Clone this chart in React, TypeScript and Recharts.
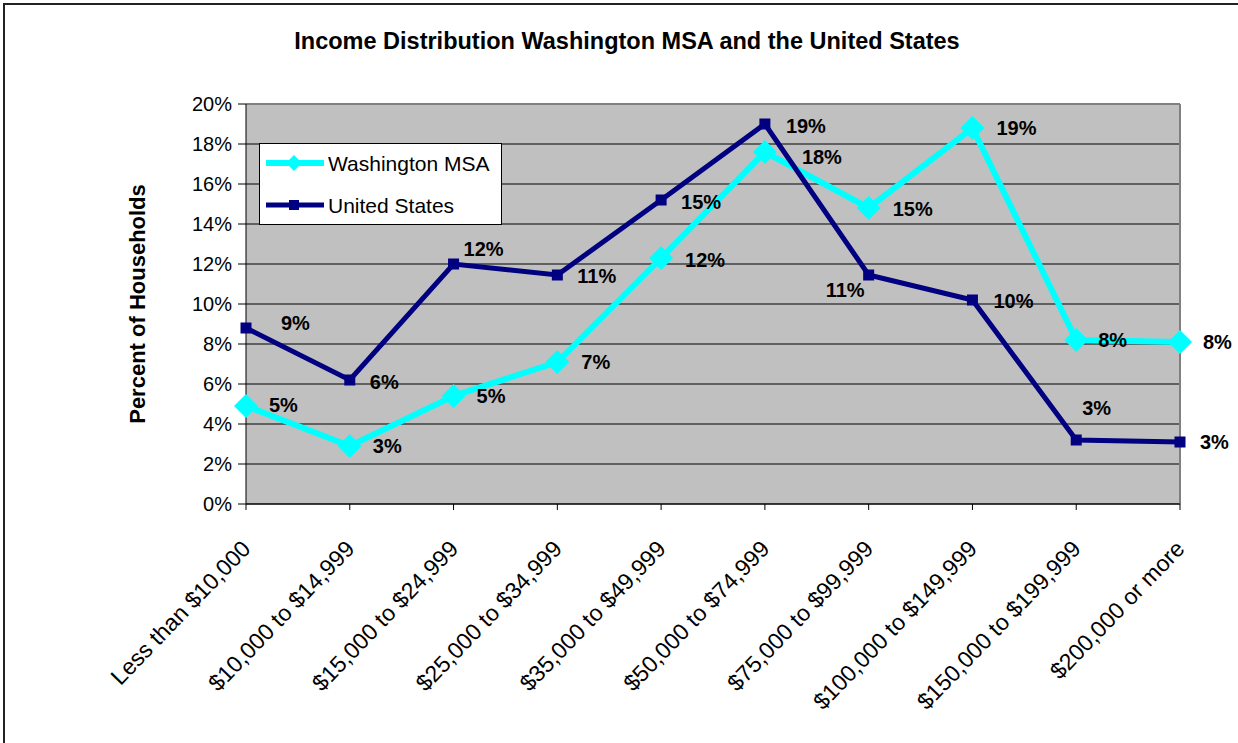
import React from "react";
import {
  LineChart,
  Line,
  XAxis,
  YAxis,
  CartesianGrid,
  Legend,
  LabelList,
  ReferenceLine,
} from "recharts";

const incomeBrackets = [
  "Less than $10,000",
  "$10,000 to $14,999",
  "$15,000 to $24,999",
  "$25,000 to $34,999",
  "$35,000 to $49,999",
  "$50,000 to $74,999",
  "$75,000 to $99,999",
  "$100,000 to $149,999",
  "$150,000 to $199,999",
  "$200,000 or more",
];

// percent of households
const washingtonMsa = [4.9, 2.9, 5.4, 7.1, 12.3, 17.6, 14.8, 18.8, 8.2, 8.1];
const unitedStates = [8.8, 6.2, 12.0, 11.45, 15.2, 19.0, 11.45, 10.2, 3.2, 3.1];

const percentTicks = [0, 2, 4, 6, 8, 10, 12, 14, 16, 18, 20];

// label nudges (dx, dy from the point), as Excel placed them
const washLabelNudge = [
  [23, -1], [23, 0], [23, 0], [24, 0], [24, 2],
  [37, 5], [24, 1], [24, 0], [22, 0], [23, 0],
];
const usLabelNudge = [
  [35, -5], [20, 2], [10, -15], [20, 1], [20, 2],
  [21, 2], [-43, 15], [21, 1], [6, -32], [20, 0],
];

const CYAN = "#00FFFF";
const NAVY = "#000080";
const FONT = "'Liberation Sans', Arial, sans-serif";

const data = incomeBrackets.map((bracket, i) => ({
  bracket,
  wash: washingtonMsa[i],
  us: unitedStates[i],
}));

const Diamond = (props: any) => {
  const { cx, cy, size = 12 } = props;
  if (cx == null || cy == null) return null;
  return (
    <polygon
      points={`${cx},${cy - size} ${cx + size},${cy} ${cx},${cy + size} ${cx - size},${cy}`}
      fill={CYAN}
    />
  );
};

const Square = (props: any) => {
  const { cx, cy, s = 11 } = props;
  if (cx == null || cy == null) return null;
  return <rect x={cx - s / 2} y={cy - s / 2} width={s} height={s} fill={NAVY} />;
};

const makeLabel = (nudge: number[][]) => (props: any) => {
  const { x, y, value, index } = props;
  const [dx, dy] = nudge[index] || [20, 0];
  return (
    <text
      x={x + dx}
      y={y + dy}
      dominantBaseline="central"
      fontFamily={FONT}
      fontWeight="bold"
      fontSize={20}
      fill="#000"
    >
      {`${Math.round(value)}%`}
    </text>
  );
};

const XTick = (props: any) => {
  const { x, y, payload } = props;
  const ax = x + 6;
  const ay = y + 38;
  return (
    <text
      x={ax}
      y={ay}
      transform={`rotate(-46 ${ax} ${ay})`}
      textAnchor="end"
      fontFamily={FONT}
      fontSize={23}
      fill="#000"
    >
      {payload.value}
    </text>
  );
};

const LegendBox = () => (
  <div
    style={{
      width: 243,
      height: 82,
      boxSizing: "border-box",
      border: "1px solid #000",
      background: "#fff",
      fontFamily: FONT,
      fontSize: 21,
    }}
  >
    <svg width={241} height={80} style={{ display: "block" }}>
      <line x1={6} x2={64} y1={19} y2={19} stroke={CYAN} strokeWidth={6} />
      <Diamond cx={34} cy={19} size={8} />
      <text x={68} y={19} dominantBaseline="central" fontSize={21} fontFamily={FONT}>
        Washington MSA
      </text>
      <line x1={6} x2={64} y1={61} y2={61} stroke={NAVY} strokeWidth={5} />
      <Square cx={34} cy={61} s={10} />
      <text x={68} y={61} dominantBaseline="central" fontSize={21} fontFamily={FONT}>
        United States
      </text>
    </svg>
  </div>
);

export default function App() {
  return (
    <div style={{ position: "absolute", left: 0, top: 0, width: 1238, height: 743, background: "#fff" }}>
      <div
        style={{
          position: "absolute",
          left: 3,
          top: 3,
          width: 1235,
          height: 740,
          boxSizing: "border-box",
          borderTop: "2px solid #222",
          borderLeft: "2px solid #222",
        }}
      />
      <div
        style={{
          position: "absolute",
          left: 16,
          top: 28,
          width: 1222,
          textAlign: "center",
          fontFamily: FONT,
          fontWeight: "bold",
          fontSize: 23.5,
        }}
      >
        Income Distribution Washington MSA and the United States
      </div>
      <div style={{ position: "absolute", left: 0, top: 0 }}>
        <LineChart
          width={1238}
          height={743}
          data={data}
          margin={{ top: 104, right: 58, bottom: 9, left: 0 }}
        >
          <CartesianGrid vertical={false} fill="#C0C0C0" stroke="#000" strokeWidth={1} />
          <XAxis
            dataKey="bracket"
            height={230}
            interval={0}
            padding={{ left: 0, right: 0 }}
            tick={<XTick />}
            tickSize={6}
            axisLine={{ stroke: "#000" }}
            tickLine={{ stroke: "#000" }}
          />
          <YAxis
            width={246}
            domain={[0, 20]}
            ticks={percentTicks}
            tickFormatter={(v: number) => `${v}%`}
            tick={{ fill: "#000", fontSize: 20, fontFamily: FONT }}
            tickSize={8}
            tickMargin={6}
            axisLine={{ stroke: "#000" }}
            tickLine={{ stroke: "#000" }}
            label={{
              content: () => (
                <text
                  x={137}
                  y={304}
                  transform="rotate(-90 137 304)"
                  textAnchor="middle"
                  dominantBaseline="central"
                  fontFamily={FONT}
                  fontWeight="bold"
                  fontSize={22}
                  fill="#000"
                >
                  Percent of Households
                </text>
              ),
            }}
          />
          <ReferenceLine y={20} stroke="#808080" strokeWidth={2} />
          <ReferenceLine x={incomeBrackets[incomeBrackets.length - 1]} stroke="#808080" strokeWidth={2} />
          <Legend
            layout="horizontal"
            align="center"
            verticalAlign="middle"
            content={() => <LegendBox />}
            wrapperStyle={{ left: 259, top: 143, width: 243, height: 82 }}
          />
          <Line
            type="linear"
            dataKey="wash"
            name="Washington MSA"
            stroke={CYAN}
            strokeWidth={6}
            dot={<Diamond />}
            activeDot={false}
            isAnimationActive={false}
          >
            <LabelList dataKey="wash" content={makeLabel(washLabelNudge)} />
          </Line>
          <Line
            type="linear"
            dataKey="us"
            name="United States"
            stroke={NAVY}
            strokeWidth={5}
            dot={<Square />}
            activeDot={false}
            isAnimationActive={false}
          >
            <LabelList dataKey="us" content={makeLabel(usLabelNudge)} />
          </Line>
        </LineChart>
      </div>
    </div>
  );
}
